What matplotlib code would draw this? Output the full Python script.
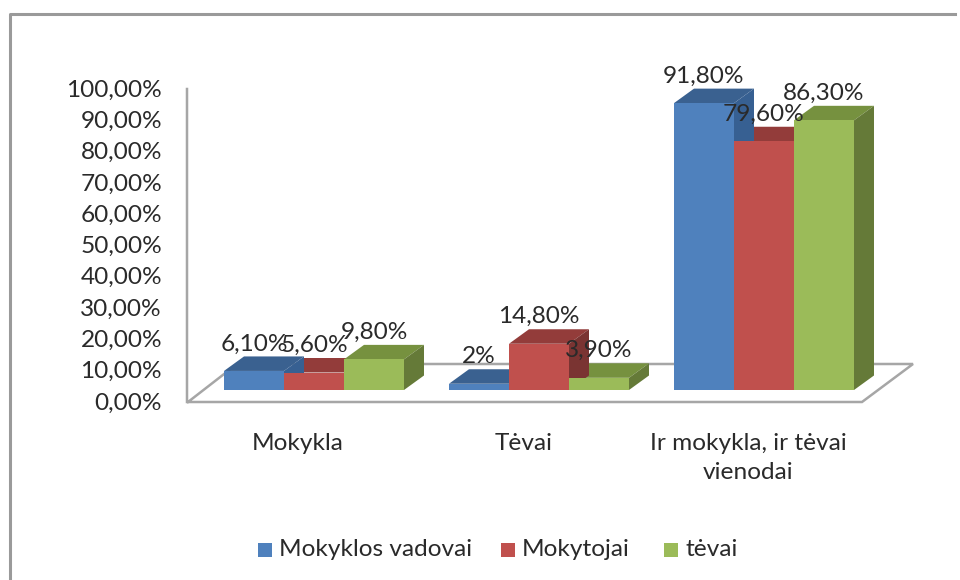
#3D-style bar chart, drawn by hand with polygons
from matplotlib import pyplot as plt, patches

categories = ['Mokykla', 'Tėvai', 'Ir mokykla, ir tėvai\nvienodai']
series_names = ['Mokyklos vadovai', 'Mokytojai', 'tėvai']
vadovai = [6.1, 2.0, 91.8]
mokytojai = [5.6, 14.8, 79.6]
tevai = [9.8, 3.9, 86.3]
value_labels = [['6,10%', '2%', '91,80%'],
                ['5,60%', '14,80%', '79,60%'],
                ['9,80%', '3,90%', '86,30%']]
y_ticks = [0, 10, 20, 30, 40, 50, 60, 70, 80, 90, 100]

colors = [('#4f81bd', '#3a6190', '#376092'),
          ('#c0504d', '#933c3a', '#7a3432'),
          ('#9bbb59', '#76913f', '#657a38')]

plt.rcParams['font.family'] = ['Lato', 'DejaVu Sans']
text_col = '#2a2a2a'
line_col = '#a6a6a6'
fs = 17.6

fig = plt.figure(figsize=(9.6, 5.8), dpi=100)
ax = fig.add_axes([0, 0, 1, 1])
ax.set_xlim(0, 960)
ax.set_ylim(580, 0)
ax.axis('off')

# y position of a value for the front of the bars / the back wall axis
def yf(v):
    return 390 - v * 3.125

def ya(v):
    return 402 - v * 3.13

dx, dy = 20, -14.5
group_x = [224, 449, 674]
bar_w = 60

# outer frame
ax.plot([10, 10, 955], [580, 14, 14], color='#9a9a9a', lw=2.2)

# floor and axis
ax.plot([187, 187, 862, 913, 237, 188], [ya(100), ya(0), ya(0), 364, 364, ya(0)],
        color=line_col, lw=1.8, solid_joinstyle='miter')

for t in y_ticks:
    ax.text(162, ya(t) + 1, f'{t},00%', ha='right', va='center', fontsize=fs, color=text_col)

series = [vadovai, mokytojai, tevai]

# sides and tops first, lowest bar first in each group
for g in range(3):
    for s in sorted(range(3), key=lambda k: series[k][g]):
        front, top, side = colors[s]
        x0 = group_x[g] + s * bar_w
        x1 = x0 + bar_w
        y0, y1 = yf(0), yf(series[s][g])
        ax.add_patch(patches.Polygon([(x0, y1), (x0 + dx, y1 + dy), (x1 + dx, y1 + dy), (x1, y1)],
                                     facecolor=top, edgecolor='none', zorder=3))
        ax.add_patch(patches.Polygon([(x1, y0), (x1 + dx, y0 + dy), (x1 + dx, y1 + dy), (x1, y1)],
                                     facecolor=side, edgecolor='none', zorder=3))

for s in range(3):
    for g, v in enumerate(series[s]):
        x0 = group_x[g] + s * bar_w
        ax.add_patch(patches.Rectangle((x0, yf(v)), bar_w, yf(0) - yf(v),
                                       facecolor=colors[s][0], edgecolor='none', zorder=4))
        ax.text(x0 + bar_w / 2, yf(v) - 27, value_labels[s][g], ha='center', va='center',
                fontsize=fs, color=text_col, zorder=10)

for x, c in zip([298, 524, 748], categories):
    ax.text(x, 433, c, ha='center', va='top', fontsize=fs, color=text_col, linespacing=1.45)

# legend
for x, name, col in zip([258, 501, 664], series_names, colors):
    ax.add_patch(patches.Rectangle((x, 543), 14, 14, facecolor=col[0], edgecolor='none'))
    ax.text(x + 21, 550, name, ha='left', va='center', fontsize=fs, color=text_col)

fig.savefig('out.png', dpi=100)
